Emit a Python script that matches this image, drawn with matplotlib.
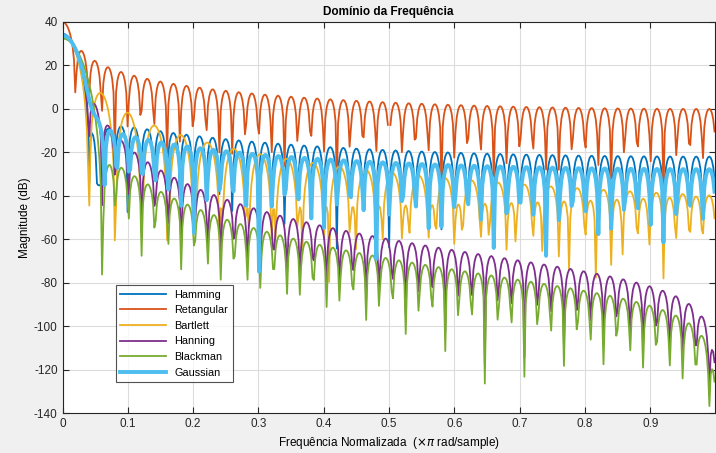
import numpy as np
import matplotlib
matplotlib.use('Agg')
import matplotlib.pyplot as plt

plt.rcParams['font.family'] = ['Liberation Sans', 'DejaVu Sans']
plt.rcParams['axes.unicode_minus'] = False

# window setup: rect peak at 40 dB -> N = 100, sidelobes every 0.02
N = 100
n_freq = 512  # freqz default, last point at 511/512
gauss_alpha = 2.5
names = ['Hamming', 'Retangular', 'Bartlett', 'Hanning', 'Blackman', 'Gaussian']
colors = ['#0072BD', '#D95319', '#EDB120', '#7E2F8E', '#77AC30', '#4DBEEE']
widths = [1.3, 1.3, 1.3, 1.3, 1.3, 2.8]


def gausswin(L, a):
    k = np.arange(L) - (L - 1) / 2.0
    return np.exp(-0.5 * (a * k / ((L - 1) / 2.0)) ** 2)


windows = {
    'Hamming': np.hamming(N),
    'Retangular': np.ones(N),
    'Bartlett': np.bartlett(N),
    'Hanning': np.hanning(N),
    'Blackman': np.blackman(N),
    'Gaussian': gausswin(N, gauss_alpha),
}

f = np.arange(n_freq) / n_freq

fig = plt.figure(figsize=(7.16, 4.53), dpi=100, facecolor='#f0f0f0')
ax = fig.add_axes([62.5 / 716, 1 - 413 / 453, (714.5 - 62.5) / 716, (413 - 22) / 453])

for name, c, lw in zip(names, colors, widths):
    H = np.fft.fft(windows[name], 2 * n_freq)[:n_freq]
    mag = 20 * np.log10(np.abs(H) + 1e-300)
    # exact nulls give -Inf in the original, which leaves a gap in the line
    mag[mag < -200] = np.nan
    ax.plot(f, mag, color=c, lw=lw, label=name)

ax.set_xlim(0, f[-1])
ax.set_ylim(-140, 40)
ax.set_xticks(np.arange(0, 1.0, 0.1))
ax.set_xticklabels(['0'] + ['%.1f' % v for v in np.arange(0.1, 1.0, 0.1)])
ax.set_yticks(np.arange(-140, 41, 20))
ax.grid(True, color='#dcdcdc', lw=0.8)
ax.set_axisbelow(True)
ax.tick_params(direction='in', top=True, right=True, labelsize=8.5, colors='#262626', length=4)
for s in ax.spines.values():
    s.set_color('#262626')
    s.set_linewidth(0.8)

ax.set_title('Domínio da Frequência', fontsize=8.5, fontweight='bold', pad=5)
ax.set_xlabel(r'Frequência Normalizada  ($\times\pi$ rad/sample)', fontsize=8.5, labelpad=4)
ax.set_ylabel('Magnitude (dB)', fontsize=8.5, labelpad=2)

leg = ax.legend(loc='lower left', bbox_to_anchor=((116 - 62.5) / 652, (413 - 382) / 391),
                fontsize=7.8, frameon=True, fancybox=False, edgecolor='#262626',
                borderpad=0.4, labelspacing=0.52, handlelength=4.2, borderaxespad=0)
leg.get_frame().set_linewidth(0.8)

fig.savefig('out.png', dpi=100, facecolor=fig.get_facecolor())
